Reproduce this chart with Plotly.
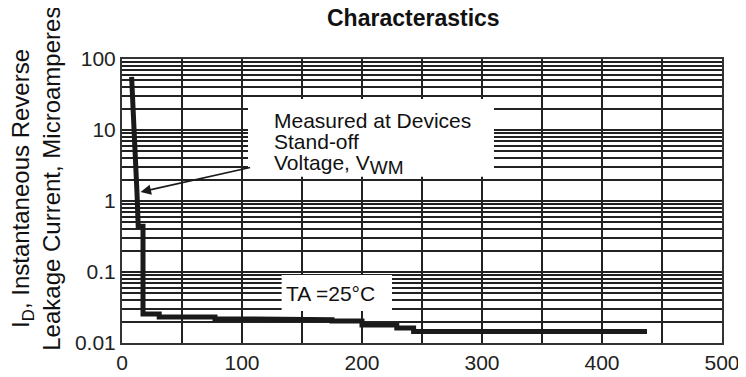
import numpy as np
import plotly.graph_objects as go

# ---- data ----
voltage_v = [8, 8.5, 11, 12.5, 13.5, 17.5, 17.5, 31, 31, 77.5, 77.5, 136, 136, 175, 175,
             200, 200, 229, 229, 243, 243, 437.5]
leakage_ua = [56, 37, 9, 1.3, 0.44, 0.44, 0.0256, 0.0256, 0.0232, 0.0232, 0.022, 0.022,
              0.0212, 0.0212, 0.0204, 0.0204, 0.018, 0.018, 0.0162, 0.0162, 0.0145, 0.0145]

y_tick_vals = [0.01, 0.1, 1, 10, 100]
y_tick_text = ["0.01", "0.1", "1", "10", "100"]
x_tick_vals = [0, 100, 200, 300, 400, 500]
x_tick_text = ["0", "100", "200", "300", "400", "500"]

arrow_head = (15.5, 1.34)
arrow_tail = (108, 3.0)

FONT = "Liberation Sans, Arial, sans-serif"
GRID = "#222222"
INK = "#1a1a1a"

minor_y = [m * 10.0 ** k for k in range(-2, 2) for m in range(2, 10)]

fig = go.Figure()
fig.add_trace(go.Scatter(x=voltage_v, y=leakage_ua, mode="lines",
                         line=dict(color=INK, width=5), showlegend=False,
                         hoverinfo="skip"))

fig.update_xaxes(range=[0, 500], tickvals=x_tick_vals, ticktext=x_tick_text,
                 showgrid=True, gridcolor=GRID, gridwidth=1.5,
                 minor=dict(dtick=50, showgrid=True, gridcolor=GRID, gridwidth=1.5),
                 showline=True, mirror=True, linecolor="#333", linewidth=2,
                 ticks="", ticklabelstandoff=0, zeroline=False, automargin=False,
                 tickfont=dict(family=FONT, size=21, color="#222"))
fig.update_yaxes(type="log", range=[-2, 2], tickvals=y_tick_vals, ticktext=y_tick_text,
                 showgrid=True, gridcolor=GRID, gridwidth=1.5,
                 minor=dict(tickvals=minor_y, showgrid=True, gridcolor=GRID, gridwidth=1.5),
                 showline=True, mirror=True, linecolor="#333", linewidth=2,
                 ticks="", ticklabelstandoff=0, zeroline=False, automargin=False,
                 tickfont=dict(family=FONT, size=21, color="#222"))

# white label backgrounds hiding the grid
for x0, x1, y0, y1 in [(105, 310, 0.585, 0.859), (133, 225, 0.113, 0.239)]:
    fig.add_shape(type="rect", xref="x", yref="paper", x0=x0, x1=x1, y0=y0, y1=y1,
                  fillcolor="white", line=dict(width=0), layer="above")

# arrow
fig.add_annotation(x=arrow_head[0], y=np.log10(arrow_head[1]), xref="x", yref="y",
                   ax=arrow_tail[0], ay=np.log10(arrow_tail[1]), axref="x", ayref="y",
                   text="", showarrow=True, arrowhead=2, arrowsize=1.3, arrowwidth=1.6,
                   arrowcolor=INK)

txt = dict(family=FONT, size=21, color="#111")
for label, yp in [("Measured at Devices", 0.785), ("Stand-off", 0.708),
                  ("Voltage, V<sub><span style='font-size:19px'>WM</span></sub>", 0.627)]:
    fig.add_annotation(x=125, y=yp, xref="x", yref="paper", text=label, showarrow=False,
                       xanchor="left", yanchor="middle", align="left", font=txt)

fig.add_annotation(x=174, y=0.175, xref="x", yref="paper", text="TA =25°C",
                   showarrow=False, xanchor="center", yanchor="middle", font=txt)

# title
fig.add_annotation(x=0.485, y=1.143, xref="paper", yref="paper",
                   text="<b>Characterastics</b>", showarrow=False,
                   xanchor="center", yanchor="middle",
                   font=dict(family=FONT, size=23, color="#111"))

# y-axis title (two rotated lines)
ytitle = dict(family=FONT, size=24, color="#111")
fig.add_annotation(x=-0.166, y=0.544, xref="paper", yref="paper",
                   text="I<sub>D</sub>, Instantaneous Reverse", textangle=-90,
                   showarrow=False, xanchor="center", yanchor="middle", font=ytitle)
fig.add_annotation(x=-0.118, y=0.579, xref="paper", yref="paper",
                   text="Leakage Current, Microamperes", textangle=-90,
                   showarrow=False, xanchor="center", yanchor="middle", font=ytitle)

# the page body has an 8px margin: shrink the figure so it fills the 746x377 window
fig.update_layout(width=738, height=369, margin=dict(l=114, r=24, t=51, b=34),
                  paper_bgcolor="white", plot_bgcolor="white", showlegend=False)

fig.write_html("out.html")
